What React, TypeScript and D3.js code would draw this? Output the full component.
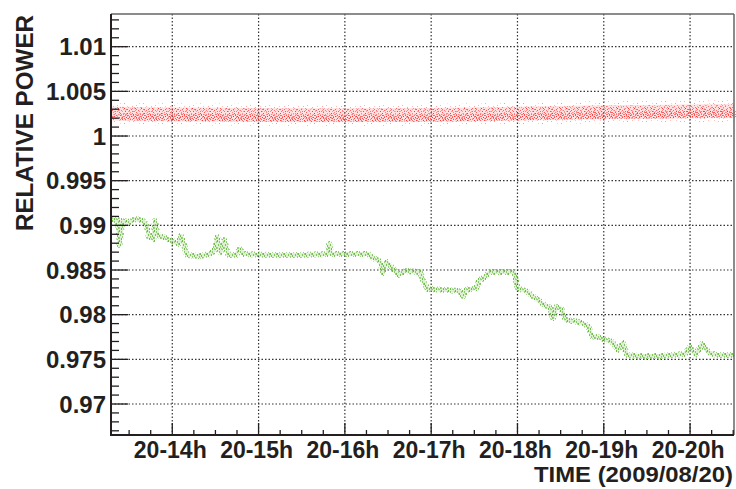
import * as d3 from "d3";
import { useEffect, useRef } from "react";

// hour ticks on the time axis (day 20)
const HOUR_TICKS = [14, 15, 16, 17, 18, 19, 20];
const HOUR_LABELS = ["20-14h", "20-15h", "20-16h", "20-17h", "20-18h", "20-19h", "20-20h"];

const Y_TICKS = [0.97, 0.975, 0.98, 0.985, 0.99, 0.995, 1, 1.005, 1.01];
const Y_LABELS = ["0.97", "0.975", "0.98", "0.985", "0.99", "0.995", "1", "1.005", "1.01"];

// upper (red) channel, centre of the point cloud
const RED_T = [13.29, 13.74, 14.32, 15.02, 15.83, 16.64, 17.45, 18.26, 18.96, 19.65, 20.51];
const RED_V = [1.00252, 1.00245, 1.0024, 1.00235, 1.00232, 1.00235, 1.0024, 1.00255, 1.00265, 1.00272, 1.0028];

// lower (green) channel
const GREEN_T = [
    13.29, 13.37, 13.39, 13.42, 13.51, 13.57, 13.66, 13.7, 13.73, 13.78,
    13.8, 13.83, 13.92, 14.0, 14.07, 14.1, 14.14, 14.17, 14.32, 14.44,
    14.49, 14.52, 14.56, 14.6, 14.65, 14.74, 14.78, 14.83, 15.13, 15.48,
    15.8, 15.82, 15.84, 16.27, 16.35, 16.41, 16.44, 16.48, 16.55, 16.62,
    16.7, 16.87, 16.92, 16.96, 17.16, 17.33, 17.37, 17.4, 17.52, 17.56,
    17.61, 17.68, 17.96, 18.0, 18.12, 18.19, 18.28, 18.38, 18.41, 18.45,
    18.51, 18.56, 18.72, 18.82, 18.86, 18.96, 19.1, 19.17, 19.22, 19.27,
    19.42, 19.65, 19.94, 20.0, 20.06, 20.14, 20.21, 20.3, 20.51
];
const GREEN_V = [
    0.9906, 0.9906, 0.9878, 0.99049, 0.99038, 0.99071, 0.99049, 0.99004, 0.9887, 0.98847,
    0.99049, 0.98892, 0.98858, 0.98825, 0.98791, 0.98881, 0.98769, 0.98668, 0.98657, 0.98679,
    0.98724, 0.9887, 0.98702, 0.98836, 0.98668, 0.98668, 0.98735, 0.98679, 0.98668, 0.98668,
    0.98679, 0.98791, 0.98679, 0.98679, 0.98623, 0.9859, 0.98467, 0.9859, 0.98523, 0.98444,
    0.98489, 0.98478, 0.98355, 0.98287, 0.98276, 0.98265, 0.98209, 0.98276, 0.98299, 0.98388,
    0.98411, 0.98478, 0.98478, 0.98299, 0.98254, 0.98198, 0.98131, 0.98075, 0.97963, 0.98086,
    0.98064, 0.9794, 0.97918, 0.97873, 0.97761, 0.97739, 0.97694, 0.97605, 0.97683, 0.97549,
    0.97537, 0.97537, 0.9756, 0.97638, 0.97549, 0.97672, 0.97582, 0.97549, 0.97549
];

const WIDTH = 736;
const HEIGHT = 489;
const FONT = "'Liberation Sans', Arial, Helvetica, sans-serif";
const INK = "#231f20";

// hand placed speckles for the fill patterns (x, y, opacity)
const RED_DENSE_DOTS = [
    [0, 0, .8], [3, 1, .5], [7, 0, .7], [11, 2, .6], [14, 1, .45], [16, 4, .8], [1, 3, .6],
    [5, 4, .9], [9, 3, .5], [12, 5, .7], [2, 6, .55], [6, 7, .8], [10, 6, .65], [15, 7, .5],
    [0, 8, .7], [4, 9, .45], [8, 9, .85], [13, 9, .6], [16, 10, .5], [1, 11, .75], [5, 12, .5],
    [9, 11, .6], [12, 12, .8], [3, 7, .4], [7, 5, .6], [14, 11, .7], [11, 8, .45], [6, 2, .55],
    [15, 3, .6], [2, 10, .5], [8, 1, .4], [10, 12, .55], [13, 4, .5], [4, 5, .35], [0, 5, .6],
    [7, 10, .4], [15, 12, .35], [11, 10, .3], [3, 12, .3], [9, 7, .35], [2, 1, .5], [13, 7, .6],
    [6, 11, .6], [16, 6, .45], [10, 0, .5], [4, 3, .6], [12, 10, .55], [8, 5, .7]
];
const RED_SPARSE_DOTS = [
    [0, 1, .45], [5, 0, .3], [10, 3, .5], [15, 1, .35], [18, 6, .4], [3, 5, .35],
    [8, 7, .45], [13, 6, .3], [1, 8, .3], [11, 0, .25], [16, 8, .3], [6, 3, .25]
];
const GREEN_SPECKS = [
    [0, 0, .85], [2, 1, .6], [4, 3, .8], [1, 4, .7], [3, 6, .55], [5, 5, .75],
    [0, 7, .5], [2, 8, .8], [4, 8, .45], [6, 1, .5], [6, 7, .65], [3, 3, .5], [5, 9, .6]
];

function App() {
    const svgRef = useRef<SVGSVGElement | null>(null);

    useEffect(() => {
        if (!svgRef.current) return;
        const frame = { left: 111, right: 734, top: 14, bottom: 435 };

        const x = d3.scaleLinear().domain([13.29, 20.509]).range([frame.left, frame.right]);
        const y = d3.scaleLinear().domain([0.96653, 1.01366]).range([frame.bottom, frame.top]);

        const svg = d3.select(svgRef.current);
        svg.selectAll("*").remove();

        // speckle patterns used to paint the point clouds
        const defs = svg.append("defs");
        const speckle = (id: string, color: string, w: number, h: number, dots: number[][], dh = 1) => {
            const p = defs.append("pattern")
                .attr("id", id)
                .attr("patternUnits", "userSpaceOnUse")
                .attr("width", w)
                .attr("height", h);
            dots.forEach(([dx, dy, o]) => {
                p.append("rect")
                    .attr("x", dx).attr("y", dy)
                    .attr("width", 1).attr("height", dh)
                    .attr("fill", color)
                    .attr("fill-opacity", o);
            });
        };
        speckle("redSparse", "#ff2b2b", 19, 10, RED_SPARSE_DOTS);
        speckle("redDense", "#ff1f1f", 17, 13, RED_DENSE_DOTS);
        speckle("greenDots", "#58b02c", 7, 10, GREEN_SPECKS, 2);

        // grid (dotted, at major ticks)
        const grid = svg.append("g")
            .attr("stroke", "#333")
            .attr("stroke-width", 1.2)
            .attr("stroke-dasharray", "1.5,2");
        HOUR_TICKS.forEach(h => {
            grid.append("line")
                .attr("x1", x(h)).attr("x2", x(h))
                .attr("y1", frame.top).attr("y2", frame.bottom);
        });
        Y_TICKS.forEach(v => {
            grid.append("line")
                .attr("x1", frame.left).attr("x2", frame.right)
                .attr("y1", y(v)).attr("y2", y(v));
        });

        // data clouds
        const line = d3.line<number>()
            .x((_, i) => x(RED_T[i]))
            .y(d => y(d))
            .curve(d3.curveMonotoneX);
        const redPath = line(RED_V);
        svg.append("path")
            .attr("d", redPath)
            .attr("fill", "none")
            .attr("stroke", "#ff5a5a")
            .attr("stroke-opacity", 0.18)
            .attr("stroke-width", 14);
        svg.append("path")
            .attr("d", redPath)
            .attr("fill", "none")
            .attr("stroke", "url(#redSparse)")
            .attr("stroke-width", 22);
        svg.append("path")
            .attr("d", redPath)
            .attr("fill", "none")
            .attr("stroke", "url(#redDense)")
            .attr("stroke-width", 13);
        svg.append("path")
            .attr("d", redPath)
            .attr("fill", "none")
            .attr("stroke", "url(#redDense)")
            .attr("transform", "translate(8,3)")
            .attr("stroke-width", 7);

        const greenLine = d3.line<number>()
            .x((_, i) => x(GREEN_T[i]))
            .y(d => y(d));
        const greenPath = greenLine(GREEN_V);
        svg.append("path")
            .attr("d", greenPath)
            .attr("fill", "none")
            .attr("stroke", "#8fd06a")
            .attr("stroke-opacity", 0.3)
            .attr("stroke-width", 4)
            .attr("stroke-linejoin", "round");
        svg.append("path")
            .attr("d", greenPath)
            .attr("fill", "none")
            .attr("stroke", "url(#greenDots)")
            .attr("stroke-width", 6)
            .attr("stroke-linejoin", "round");

        // frame
        svg.append("line")
            .attr("x1", frame.left).attr("x2", frame.right)
            .attr("y1", frame.top).attr("y2", frame.top)
            .attr("stroke", "#666").attr("stroke-width", 1.5);
        svg.append("line")
            .attr("x1", frame.right).attr("x2", frame.right)
            .attr("y1", frame.top).attr("y2", frame.bottom)
            .attr("stroke", "#666").attr("stroke-width", 1.5);
        svg.append("line")
            .attr("x1", frame.left).attr("x2", frame.left)
            .attr("y1", frame.top).attr("y2", frame.bottom + 1)
            .attr("stroke", INK).attr("stroke-width", 2);
        svg.append("line")
            .attr("x1", frame.left - 1).attr("x2", frame.right)
            .attr("y1", frame.bottom).attr("y2", frame.bottom)
            .attr("stroke", INK).attr("stroke-width", 2);

        // ticks
        const ticks = svg.append("g").attr("stroke", INK).attr("stroke-width", 1.3);
        d3.range(0.967, 1.0136, 0.001).forEach(v => {
            const major = Y_TICKS.some(t => Math.abs(t - v) < 1e-6);
            ticks.append("line")
                .attr("x1", frame.left).attr("x2", frame.left + (major ? 17 : 8))
                .attr("y1", y(v)).attr("y2", y(v));
        });
        d3.range(13.5, 20.51, 0.25).forEach(h => {
            const major = Math.abs(h - Math.round(h)) < 1e-6;
            ticks.append("line")
                .attr("x1", x(h)).attr("x2", x(h))
                .attr("y1", frame.bottom).attr("y2", frame.bottom - (major ? 12 : 5));
        });

        // labels
        const text = svg.append("g")
            .attr("font-family", FONT)
            .attr("font-weight", "bold")
            .attr("fill", INK);
        Y_TICKS.forEach((v, i) => {
            text.append("text")
                .attr("x", 106)
                .attr("y", y(v))
                .attr("dy", "0.36em")
                .attr("text-anchor", "end")
                .attr("font-size", 24)
                .text(Y_LABELS[i]);
        });
        HOUR_TICKS.forEach((h, i) => {
            text.append("text")
                .attr("x", x(h) - 2)
                .attr("y", 458)
                .attr("text-anchor", "middle")
                .attr("font-size", 23)
                .text(HOUR_LABELS[i]);
        });
        text.append("text")
            .attr("x", 733)
            .attr("y", 482)
            .attr("text-anchor", "end")
            .attr("font-size", 22)
            .attr("textLength", 199)
            .attr("lengthAdjust", "spacingAndGlyphs")
            .text("TIME (2009/08/20)");
        text.append("text")
            .attr("transform", "translate(33,15) rotate(-90)")
            .attr("text-anchor", "end")
            .attr("font-size", 23)
            .attr("textLength", 216)
            .attr("lengthAdjust", "spacingAndGlyphs")
            .text("RELATIVE POWER");
    }, []);

    return (
        <svg
            ref={svgRef}
            width={WIDTH}
            height={HEIGHT}
            style={{ position: "absolute", left: 0, top: 0, background: "#fff" }}
        />
    );
}

export default App;
